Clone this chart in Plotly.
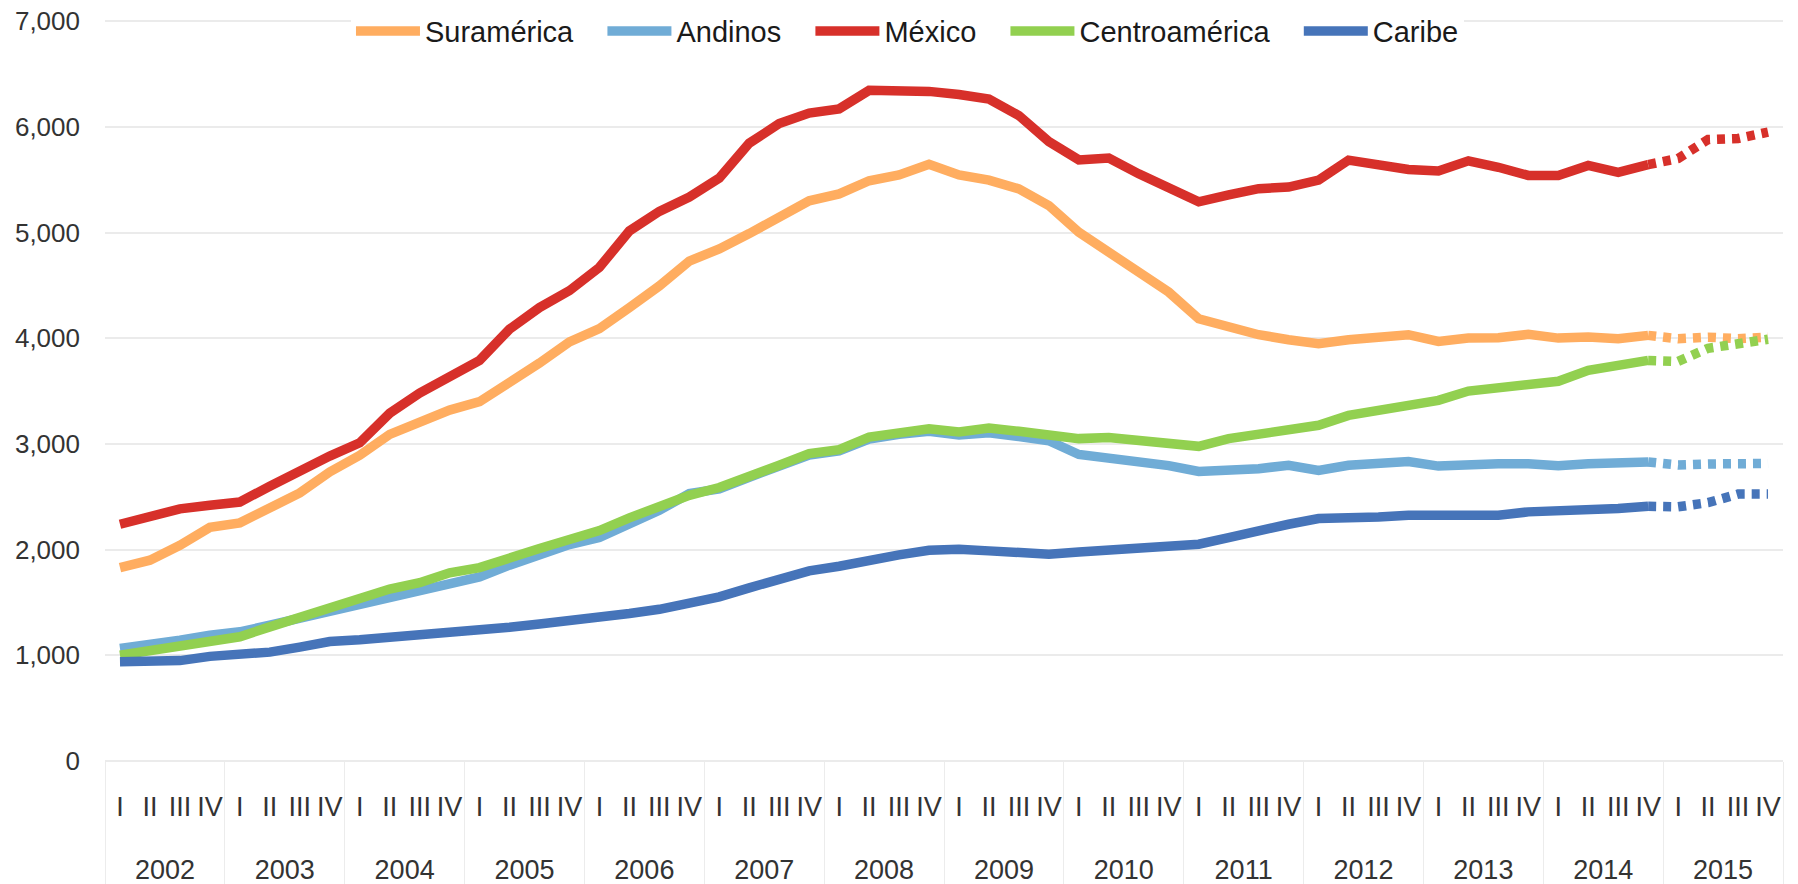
import plotly.graph_objects as go

years = [str(y) for y in range(2002, 2016)]
quarters = ["I", "II", "III", "IV"]

series_names = ["Suramérica", "Andinos", "México", "Centroamérica", "Caribe"]
colors = ["#FFAD60", "#70ACD6", "#D7302A", "#92D050", "#4674B9"]

# Observed quarterly values 2002-I .. 2014-IV (52 quarters)
suramerica = [1830, 1900, 2040, 2210, 2253, 2404, 2536, 2735, 2892, 3090, 3210, 3320,
              3400, 3575, 3765, 3965, 4090, 4290, 4495, 4730, 4845, 4990, 5145, 5300,
              5365, 5490, 5545, 5645, 5545, 5495, 5413, 5255, 5003, 4814, 4625, 4436,
              4184, 4105, 4033, 3986, 3948, 3986, 4001, 4033, 3970, 4001, 4005, 4036,
              4001, 4011, 3995, 4027]
andinos = [1065, 1096, 1144, 1191, 1222, 1285, 1349, 1421, 1474, 1553, 1610, 1679,
           1742, 1853, 1947, 2048, 2114, 2245, 2372, 2530, 2575, 2685, 2785, 2895,
           2935, 3045, 3090, 3120, 3085, 3105, 3070, 3030, 2900, 2868, 2835, 2795,
           2740, 2745, 2766, 2798, 2750, 2798, 2813, 2834, 2790, 2807, 2813, 2813,
           2793, 2813, 2815, 2829]
mexico = [2240, 2320, 2385, 2420, 2450, 2600, 2755, 2885, 3010, 3290, 3480, 3640,
          3790, 4085, 4290, 4450, 4670, 5015, 5200, 5335, 5515, 5845, 6030, 6130,
          6170, 6345, 6345, 6335, 6305, 6262, 6106, 5860, 5687, 5705, 5555, 5425,
          5290, 5355, 5415, 5430, 5495, 5685, 5640, 5597, 5582, 5678, 5617, 5540,
          5540, 5635, 5570, 5643]
centroamerica = [1000, 1043, 1087, 1144, 1175, 1269, 1364, 1458, 1550, 1627, 1687, 1780,
                 1830, 1931, 2010, 2095, 2180, 2300, 2404, 2514, 2587, 2703, 2798, 2908,
                 2946, 3065, 3107, 3144, 3113, 3150, 3119, 3081, 3050, 3060, 3028, 2987,
                 2977, 3050, 3088, 3129, 3176, 3270, 3318, 3365, 3412, 3500, 3532, 3576,
                 3592, 3696, 3737, 3790]
caribe = [939, 945, 950, 990, 1010, 1030, 1078, 1131, 1147, 1168, 1200, 1230,
          1232, 1265, 1296, 1325, 1360, 1395, 1435, 1484, 1553, 1638, 1711, 1799,
          1843, 1906, 1950, 1994, 2004, 1988, 1972, 1957, 1978, 1994, 2010, 2026,
          2051, 2114, 2183, 2240, 2294, 2294, 2309, 2325, 2325, 2303, 2325, 2357,
          2363, 2363, 2388, 2410]

# Projection 2015-I .. 2015-IV (dotted)
suramerica_proj = [3995, 4010, 3995, 4010]
andinos_proj = [2800, 2810, 2808, 2815]
mexico_proj = [5700, 5880, 5890, 5950]
centroamerica_proj = [3781, 3905, 3950, 3990]
caribe_proj = [2405, 2445, 2525, 2525]

observed = [suramerica, andinos, mexico, centroamerica, caribe]
projected = [suramerica_proj, andinos_proj, mexico_proj, centroamerica_proj, caribe_proj]

y_ticks = [0, 1000, 2000, 3000, 4000, 5000, 6000, 7000]

# category positions (one per quarter) and their two-level labels
quarter_labels = [q for _ in years for q in quarters]
pos = list(range(len(quarter_labels)))
nq = len(quarters)
year_centers = [k * nq + (nq - 1) / 2 for k in range(len(years))]
year_bounds = [k * nq - 0.5 for k in range(len(years) + 1)]
n_obs = len(suramerica)

FONT = "Liberation Sans, Arial, sans-serif"
NBSP = "\u00a0"

fig = go.Figure()
for k, (name, col, obs) in enumerate(zip(series_names, colors, observed)):
    label = name + (NBSP * 3 if k < len(series_names) - 1 else "")
    fig.add_trace(go.Scatter(
        x=pos[:n_obs], y=obs, name=label, mode="lines",
        line=dict(color=col, width=9.5), hoverinfo="skip"))
for name, col, obs, proj in zip(series_names, colors, observed, projected):
    fig.add_trace(go.Scatter(
        x=pos[n_obs - 1:], y=[obs[-1]] + proj, name=name,
        mode="lines", showlegend=False,
        line=dict(color=col, width=9.5, dash="8px,7px"), hoverinfo="skip"))
# empty carriers so the year-label axis and the divider axis get drawn
for ax in ("x2", "x3"):
    fig.add_trace(go.Scatter(x=[None], y=[None], xaxis=ax, yaxis="y", mode="lines",
                             showlegend=False, hoverinfo="skip"))

xr = [-0.5, len(pos) - 0.5]
fig.update_layout(
    width=1790, height=876,
    margin=dict(l=97, r=15, t=10.6, b=123, autoexpand=False),
    paper_bgcolor="white", plot_bgcolor="white",
    font=dict(family=FONT, color="#333333"),
    legend=dict(orientation="h", xref="container", yref="container",
                x=0.5025, xanchor="center", y=0.9737, yanchor="middle",
                bgcolor="white", font=dict(size=29, color="#1a1a1a", family=FONT),
                itemwidth=64, traceorder="normal"),
    xaxis=dict(range=xr, tickmode="array", tickvals=pos, ticktext=quarter_labels,
               showgrid=False, showline=False, zeroline=False, ticks="", tickangle=0,
               ticklabelstandoff=27, tickfont=dict(size=27, color="#333333")),
    xaxis2=dict(range=xr, overlaying="x", anchor="y", side="bottom",
                tickmode="array", tickvals=year_centers, ticktext=years,
                showgrid=False, showline=False, zeroline=False, ticks="", tickangle=0,
                ticklabelstandoff=90, ticklabeloverflow="allow",
                tickfont=dict(size=27, color="#333333")),
    xaxis3=dict(range=xr, overlaying="x", anchor="y", side="bottom",
                tickmode="array", tickvals=year_bounds, showticklabels=False,
                showgrid=False, showline=False, zeroline=False,
                ticks="outside", ticklen=122, tickwidth=1, tickcolor="#ececec"),
    yaxis=dict(range=[0, 7020], tickvals=y_ticks,
               tickformat=",", showgrid=True, ticklabeloverflow="allow",
               gridcolor="#ebebeb", gridwidth=1.5, zeroline=True, zerolinecolor="#ebebeb",
               zerolinewidth=1.5, showline=False, ticks="", ticklabelstandoff=24,
               tickfont=dict(size=26, color="#333333")),
)

fig.write_html("out.html")
